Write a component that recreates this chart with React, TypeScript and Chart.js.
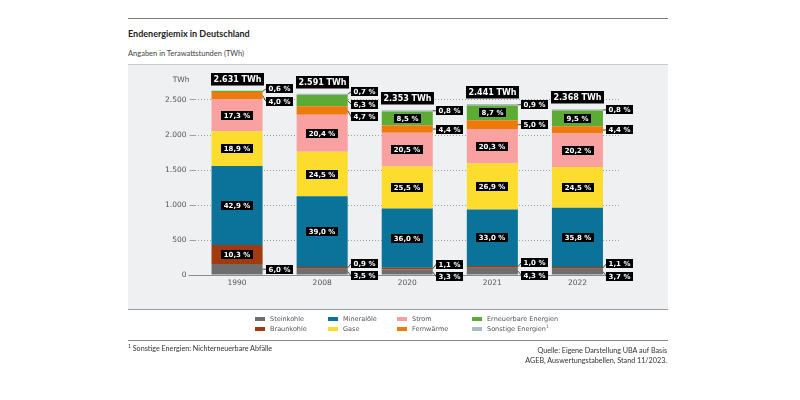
import React, { useEffect, useRef } from "react";
import { Chart, registerables } from "chart.js";

Chart.register(...registerables);

// ---- data ----
const years = ["1990", "2008", "2020", "2021", "2022"];
const totals = [2631, 2591, 2353, 2441, 2368]; // TWh
// shares in percent (as labelled)
const steinkohle = [6.0, 3.5, 3.3, 4.3, 3.7];
const braunkohle = [10.3, 0.9, 1.1, 1.0, 1.1];
const mineraloele = [42.9, 39.0, 36.0, 33.0, 35.8];
const gase = [18.9, 24.5, 25.5, 26.9, 24.5];
const strom = [17.3, 20.4, 20.5, 20.3, 20.2];
const fernwaerme = [4.0, 4.7, 4.4, 5.0, 4.4];
const erneuerbare = [0.6, 6.3, 8.5, 8.7, 9.5];
const sonstige = [0, 0.7, 0.8, 0.9, 0.8];

const seriesNames = [
  "Steinkohle",
  "Braunkohle",
  "Mineralöle",
  "Gase",
  "Strom",
  "Fernwärme",
  "Erneuerbare Energien",
  "Sonstige Energien",
];
const seriesShares = [steinkohle, braunkohle, mineraloele, gase, strom, fernwaerme, erneuerbare, sonstige];
const seriesColors = ["#6e6e6e", "#a23a10", "#0b7399", "#fcdc2c", "#f9a1a1", "#ef7a0c", "#5cab34", "#a9bdc3"];
const yTicks = [0, 500, 1000, 1500, 2000, 2500];

const fmtThousands = (v: number) => String(Math.round(v)).replace(/\B(?=(\d{3})+(?!\d))/g, ".");
const fmtPct = (v: number) => v.toFixed(1).replace(".", ",") + " %";

const FONT = '"DejaVu Sans", Verdana, sans-serif';

function drawBox(ctx: CanvasRenderingContext2D, text: string, cx: number, cy: number, font: string, padX: number, h: number, left?: number) {
  ctx.font = font;
  const w = ctx.measureText(text).width + padX * 2;
  const x0 = left !== undefined ? left : cx - w / 2;
  ctx.fillStyle = "#000";
  ctx.fillRect(Math.round(x0), Math.round(cy - h / 2), Math.round(w), h);
  ctx.fillStyle = "#fff";
  ctx.textAlign = "center";
  ctx.textBaseline = "middle";
  ctx.fillText(text, Math.round(x0) + Math.round(w) / 2, Math.round(cy - h / 2) + h / 2 + 0.5);
  return { left: x0, right: x0 + w };
}

type Item = { c: number; t: number; b: number; text: string; pos: number };

// spread labels so they don't overlap; clusters are centred either on the
// mean of segment centres or on the span of the merged segments
function layoutGroup(items: Item[], gap: number, useSpan: boolean) {
  items.sort((a, b) => a.c - b.c);
  const clusters: Item[][] = items.map((it) => [it]);
  const place = (cl: Item[]) => {
    const m = useSpan
      ? (cl[0].t + cl[cl.length - 1].b) / 2
      : cl.reduce((s, it) => s + it.c, 0) / cl.length;
    cl.forEach((it, idx) => (it.pos = m + (idx - (cl.length - 1) / 2) * gap));
  };
  clusters.forEach(place);
  let changed = true;
  while (changed) {
    changed = false;
    for (let j = 0; j < clusters.length - 1; j++) {
      const a = clusters[j];
      const b = clusters[j + 1];
      if (b[0].pos - a[a.length - 1].pos < gap) {
        const merged = a.concat(b);
        place(merged);
        clusters.splice(j, 2, merged);
        changed = true;
        break;
      }
    }
  }
}

const labelPlugin = {
  id: "segLabels",
  beforeDatasetsDraw(chart: any) {
    const { ctx, chartArea, scales } = chart;
    const y0 = Math.round(scales.y.getPixelForValue(0)) + 0.5;
    ctx.save();
    ctx.strokeStyle = "#8c8c8c";
    ctx.lineWidth = 1;
    ctx.beginPath();
    ctx.moveTo(chartArea.left - 6, y0);
    ctx.lineTo(chartArea.right, y0);
    ctx.stroke();
    ctx.fillStyle = "#555";
    ctx.font = `7.5px ${FONT}`;
    ctx.textAlign = "right";
    ctx.textBaseline = "middle";
    ctx.fillText("TWh", chartArea.left - 5, chartArea.top + 1);
    ctx.restore();
  },
  afterDatasetsDraw(chart: any) {
    const { ctx, scales } = chart;
    ctx.save();
    const n = chart.data.labels.length;
    for (let i = 0; i < n; i++) {
      const top: Item[] = [];
      const bottom: Item[] = [];
      let barX = 0;
      let barRight = 0;
      chart.data.datasets.forEach((ds: any, k: number) => {
        const el = chart.getDatasetMeta(k).data[i];
        const p = el.getProps(["x", "y", "base", "width"], true);
        barX = p.x;
        barRight = p.x + p.width / 2;
        const share = seriesShares[k][i];
        if (!share) return;
        const h = p.base - p.y;
        const c = (p.base + p.y) / 2;
        if (h >= 13) {
          drawBox(ctx, fmtPct(share), p.x, c, `bold 7px ${FONT}`, 2.5, 9);
        } else {
          const it = { c, t: p.y, b: p.base, text: fmtPct(share), pos: c };
          (k <= 1 ? bottom : top).push(it);
        }
      });
      [top, bottom].forEach((grp, gi) => {
        if (!grp.length) return;
        layoutGroup(grp, 12.5, gi === 0);
        grp.forEach((it) => {
          const lx = barRight + 3.5;
          ctx.strokeStyle = "#222";
          ctx.lineWidth = 0.8;
          ctx.beginPath();
          ctx.moveTo(barRight, it.c);
          ctx.lineTo(lx, it.pos);
          ctx.stroke();
          drawBox(ctx, it.text, 0, it.pos, `bold 7px ${FONT}`, 2.5, 9, lx);
        });
      });
      const yTop = scales.y.getPixelForValue(totals[i]);
      drawBox(ctx, fmtThousands(totals[i]) + " TWh", barX, yTop - 5.5 - 6.25, `bold 8px ${FONT}`, 2.5, 12.5);
    }
    ctx.restore();
  },
};

export default function App() {
  const ref = useRef<HTMLCanvasElement>(null);
  useEffect(() => {
    if (!ref.current) return;
    const datasets = seriesNames.map((name, k) => ({
      label: name,
      data: seriesShares[k].map((s, i) => (s * totals[i]) / 100),
      backgroundColor: seriesColors[k],
      borderWidth: 0,
      barPercentage: 0.6,
      categoryPercentage: 1.0,
    }));
    const chart = new Chart(ref.current, {
      type: "bar",
      data: { labels: years, datasets },
      options: {
        animation: false,
        responsive: false,
        layout: { padding: { left: 0, top: 79, right: 180, bottom: 105 } },
        plugins: { legend: { display: false }, tooltip: { enabled: false } },
        scales: {
          x: {
            stacked: true,
            grid: { display: false, drawTicks: false },
            border: { display: false },
            ticks: { color: "#555", font: { family: FONT, size: 7.5 }, padding: 4 },
            afterFit: (s: any) => {
              s.height = 20;
            },
          },
          y: {
            stacked: true,
            min: 0,
            max: 2800,
            afterBuildTicks: (s: any) => {
              s.ticks = yTicks.map((v) => ({ value: v }));
            },
            ticks: {
              color: "#555",
              font: { family: FONT, size: 7.5 },
              padding: 3,
              callback: (v: any) => fmtThousands(Number(v)),
            },
            grid: { color: "#a0a0a0", tickLength: 5, drawTicks: true, tickColor: "#a0a0a0", lineWidth: 1 },
            border: { display: false, dash: [1, 2] },
            afterFit: (s: any) => {
              s.width = 194.5;
            },
          },
        },
      } as any,
      plugins: [labelPlugin],
    });
    return () => chart.destroy();
  }, []);

  const txt = 'Lato, "Open Sans", sans-serif';
  const legendTextX = [270, 343, 412, 487];
  return (
    <div style={{ position: "absolute", left: 0, top: 0, width: 800, height: 400, background: "#fff", overflow: "hidden" }}>
      <div style={{ position: "absolute", left: 128, top: 18, width: 540, borderTop: "1px solid #7a7a7a" }} />
      <div style={{ position: "absolute", left: 128, top: 28, fontFamily: txt, fontWeight: 700, fontSize: 9, color: "#222", lineHeight: "12px", whiteSpace: "nowrap" }}>
        Endenergiemix in Deutschland
      </div>
      <div style={{ position: "absolute", left: 128, top: 49, fontFamily: txt, fontSize: 7.5, color: "#444", lineHeight: "10px", whiteSpace: "nowrap" }}>
        Angaben in Terawattstunden (TWh)
      </div>
      <div style={{ position: "absolute", left: 128, top: 64, width: 540, height: 244, background: "#eef0f1", borderTop: "1px solid #c9cbcc", borderBottom: "1px solid #9c9c9c" }} />
      <canvas ref={ref} width={800} height={400} style={{ position: "absolute", left: 0, top: 0, width: 800, height: 400 }} />
      {seriesNames.map((name, k) => {
        const col = Math.floor(k / 2);
        const row = k % 2;
        const tx = legendTextX[col];
        const y = 319 + row * 10;
        return (
          <React.Fragment key={k}>
            <span style={{ position: "absolute", left: tx - 15, top: y - 2, width: 10, height: 4, background: seriesColors[k] }} />
            <span style={{ position: "absolute", left: tx, top: y - 5, lineHeight: "10px", fontFamily: FONT, fontSize: 6.5, color: "#555", whiteSpace: "nowrap" }}>
              {name}
              {k === 7 ? <sup style={{ fontSize: 4.5, lineHeight: 0 }}>1</sup> : null}
            </span>
          </React.Fragment>
        );
      })}
      <div style={{ position: "absolute", left: 128, top: 340, width: 540, borderTop: "1px solid #8a8a8a" }} />
      <div style={{ position: "absolute", left: 128, top: 344, fontFamily: txt, fontSize: 7.2, color: "#333", lineHeight: "10px", whiteSpace: "nowrap" }}>
        <sup style={{ fontSize: 5, lineHeight: 0 }}>1</sup> Sonstige Energien: Nichterneuerbare Abfälle
      </div>
      <div style={{ position: "absolute", right: 133, top: 346, fontFamily: txt, fontSize: 7.2, color: "#333", lineHeight: "10px", textAlign: "right", whiteSpace: "nowrap" }}>
        Quelle: Eigene Darstellung UBA auf Basis
        <br />
        AGEB, Auswertungstabellen, Stand 11/2023.
      </div>
    </div>
  );
}
